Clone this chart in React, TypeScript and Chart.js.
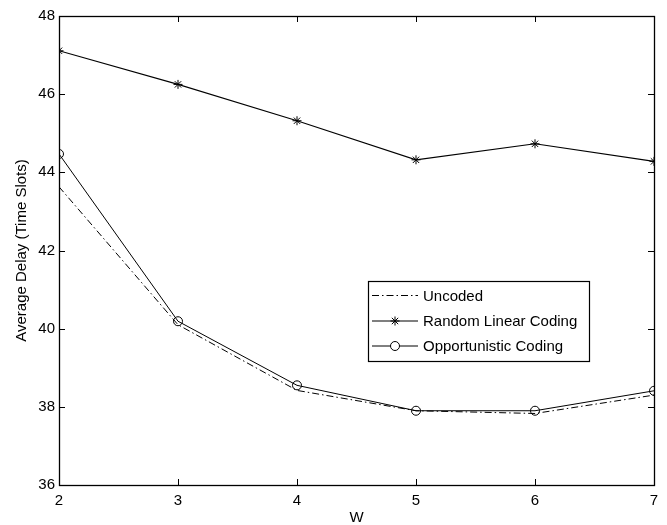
import React, { useEffect, useRef } from 'react';
import { Chart, registerables } from 'chart.js';

Chart.register(...registerables);

const wValues = [2, 3, 4, 5, 6, 7];
const uncoded = [43.63, 40.1, 38.42, 37.9, 37.83, 38.3];
const randomLinear = [47.11, 46.25, 45.32, 44.32, 44.73, 44.28];
const opportunistic = [44.47, 40.19, 38.55, 37.9, 37.9, 38.41];
const xTicks = [2, 3, 4, 5, 6, 7];
const yTicks = [36, 38, 40, 42, 44, 46, 48];
const seriesLabels = ['Uncoded', 'Random Linear Coding', 'Opportunistic Coding'];
const xTitle = 'W';
const yTitle = 'Average Delay (Time Slots)';

const FONT = "'Liberation Sans', Arial, Helvetica, sans-serif";

const boxAndTicks = {
  id: 'boxAndTicks',
  afterDatasetsDraw(chart: any) {
    const { ctx, chartArea } = chart;
    const { left, right, top, bottom } = chartArea;
    const xs = chart.scales.x;
    const ys = chart.scales.y;
    const tl = 6;
    ctx.save();
    ctx.strokeStyle = '#000';
    ctx.lineWidth = 1;
    ctx.beginPath();
    for (const v of xTicks) {
      const px = Math.round(xs.getPixelForValue(v)) + 0.5;
      ctx.moveTo(px, bottom);
      ctx.lineTo(px, bottom - tl);
      ctx.moveTo(px, top);
      ctx.lineTo(px, top + tl);
    }
    for (const v of yTicks) {
      const py = Math.round(ys.getPixelForValue(v)) + 0.5;
      ctx.moveTo(left, py);
      ctx.lineTo(left + tl, py);
      ctx.moveTo(right, py);
      ctx.lineTo(right - tl, py);
    }
    ctx.stroke();
    ctx.lineWidth = 1.3;
    ctx.strokeRect(Math.round(left) + 0.5, Math.round(top) + 0.5, Math.round(right - left), Math.round(bottom - top));
    ctx.restore();
  },
};

const boxLegend = {
  id: 'boxLegend',
  afterDraw(chart: any) {
    const { ctx } = chart;
    const bx = 368.5, by = 281.5, bw = 221, bh = 80;
    ctx.save();
    ctx.fillStyle = '#fff';
    ctx.fillRect(bx, by, bw, bh);
    ctx.strokeStyle = '#000';
    ctx.lineWidth = 1.2;
    ctx.strokeRect(bx, by, bw, bh);
    const rows = [295.5, 321, 346];
    chart.data.datasets.forEach((ds: any, i: number) => {
      const y = rows[i];
      ctx.save();
      ctx.strokeStyle = ds.borderColor;
      ctx.lineWidth = ds.borderWidth;
      ctx.setLineDash(ds.borderDash || []);
      ctx.beginPath();
      ctx.moveTo(372, y);
      ctx.lineTo(418, y);
      ctx.stroke();
      ctx.restore();
      ctx.fillStyle = '#000';
      ctx.font = `15px ${FONT}`;
      ctx.textAlign = 'left';
      ctx.textBaseline = 'middle';
      ctx.fillText(ds.label, 423, y + 1);
    });
    const ds1 = chart.data.datasets[1];
    const ds2 = chart.data.datasets[2];
    const cx = 395;
    ctx.strokeStyle = '#000';
    ctx.lineWidth = 1;
    const r1 = ds1.pointRadius;
    const y1 = rows[1];
    ctx.beginPath();
    for (let k = 0; k < 4; k++) {
      const a = (k * Math.PI) / 4;
      ctx.moveTo(cx + Math.sin(a) * r1, y1 - Math.cos(a) * r1);
      ctx.lineTo(cx - Math.sin(a) * r1, y1 + Math.cos(a) * r1);
    }
    ctx.stroke();
    const r2 = ds2.pointRadius;
    ctx.beginPath();
    ctx.arc(cx, rows[2], r2, 0, Math.PI * 2);
    ctx.fillStyle = '#fff';
    ctx.fill();
    ctx.stroke();
    ctx.restore();
  },
};

export default function App() {
  const canvasRef = useRef<HTMLCanvasElement | null>(null);

  useEffect(() => {
    document.body.style.margin = '0';
    const canvas = canvasRef.current;
    if (!canvas) return;
    const chart = new Chart(canvas, {
      type: 'line',
      data: {
        labels: wValues,
        datasets: [
          {
            label: seriesLabels[0],
            data: wValues.map((w, i) => ({ x: w, y: uncoded[i] })),
            borderColor: '#000',
            borderWidth: 1,
            borderDash: [7, 3, 1.5, 3],
            pointRadius: 0,
            pointStyle: false as any,
            fill: false,
            tension: 0,
          },
          {
            label: seriesLabels[1],
            data: wValues.map((w, i) => ({ x: w, y: randomLinear[i] })),
            borderColor: '#000',
            borderWidth: 1.1,
            pointStyle: 'star',
            pointRadius: 4.5,
            pointBorderColor: '#000',
            pointBorderWidth: 1,
            pointBackgroundColor: '#000',
            fill: false,
            tension: 0,
          },
          {
            label: seriesLabels[2],
            data: wValues.map((w, i) => ({ x: w, y: opportunistic[i] })),
            borderColor: '#000',
            borderWidth: 1,
            pointStyle: 'circle',
            pointRadius: 4.5,
            pointBorderColor: '#000',
            pointBorderWidth: 1,
            pointBackgroundColor: 'rgba(255,255,255,0)',
            fill: false,
            tension: 0,
          },
        ],
      },
      options: {
        responsive: false,
        animation: false,
        devicePixelRatio: 1,
        layout: { padding: { top: 16, right: 13, left: 0, bottom: 0 } },
        plugins: {
          legend: { display: false },
          tooltip: { enabled: false },
          title: { display: false },
        },
        scales: {
          x: {
            type: 'linear',
            min: 2,
            max: 7,
            afterBuildTicks: (s: any) => {
              s.ticks = xTicks.map((v) => ({ value: v }));
            },
            afterFit: (s: any) => {
              s.height = 40;
            },
            grid: { display: false, drawTicks: false },
            border: { display: false },
            ticks: {
              color: '#000',
              padding: 7,
              maxRotation: 0,
              autoSkip: false,
              font: { family: FONT, size: 15 },
              callback: (v: any) => String(v),
            },
            title: {
              display: true,
              text: xTitle,
              color: '#000',
              font: { family: FONT, size: 15 },
              padding: { top: 0, bottom: -2 },
            },
          },
          y: {
            type: 'linear',
            min: 36,
            max: 48,
            afterBuildTicks: (s: any) => {
              s.ticks = yTicks.map((v) => ({ value: v }));
            },
            afterFit: (s: any) => {
              s.width = 59;
            },
            grid: { display: false, drawTicks: false },
            border: { display: false },
            ticks: {
              color: '#000',
              padding: 4,
              autoSkip: false,
              font: { family: FONT, size: 15 },
              callback: (v: any) => String(v),
            },
            title: {
              display: true,
              text: yTitle,
              color: '#000',
              font: { family: FONT, size: 15 },
              padding: { top: 13, bottom: 0 },
            },
          },
        },
      },
      plugins: [boxAndTicks, boxLegend],
    });
    return () => chart.destroy();
  }, []);

  return (
    <div style={{ width: 667, height: 525, background: '#fff' }}>
      <canvas ref={canvasRef} width={667} height={525} style={{ display: 'block' }} />
    </div>
  );
}
